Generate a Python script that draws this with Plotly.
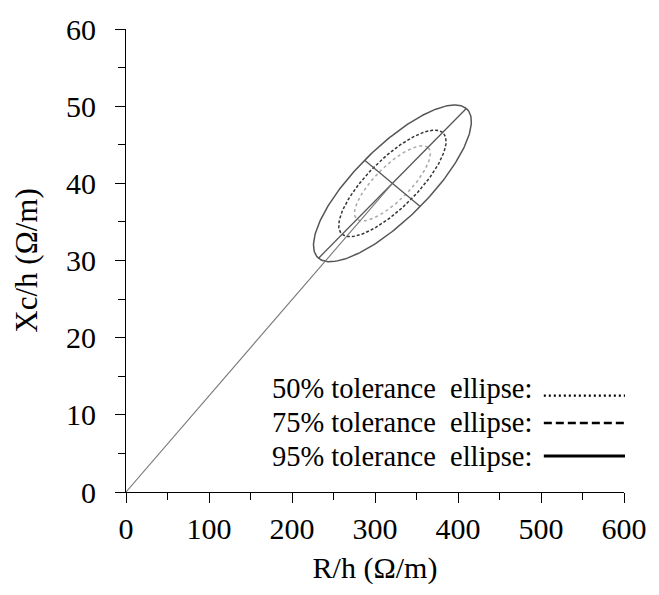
import numpy as np
import plotly.graph_objects as go

# ---- data ----
mean_R = 321.0          # R/h of mean vector
mean_Xc = 40.0          # Xc/h of mean vector
major_semi = [89.0, 9.7]     # 95% ellipse semi-major axis vector (R, Xc)
minor_semi = [-33.5, 3.0]    # 95% ellipse semi-minor axis vector (R, Xc)
levels = ["50%", "75%", "95%"]
level_scale = [0.48, 0.68, 1.0]
level_color = ["#a8a8a8", "#333333", "#555555"]
level_dash = ["dot", "3px,2px", "solid"]
x_ticks = [0, 100, 200, 300, 400, 500, 600]
y_ticks = [0, 10, 20, 30, 40, 50, 60]

FONT = "Liberation Serif"
fig = go.Figure()

t = np.linspace(0, 2 * np.pi, 241)
for lv, s, c, d in zip(levels, level_scale, level_color, level_dash):
    xs = mean_R + s * (major_semi[0] * np.cos(t) + minor_semi[0] * np.sin(t))
    ys = mean_Xc + s * (major_semi[1] * np.cos(t) + minor_semi[1] * np.sin(t))
    fig.add_trace(go.Scatter(x=xs, y=ys, mode="lines",
                             line=dict(color=c, width=1.5, dash=d),
                             hoverinfo="skip", showlegend=False))

# principal axes of the 95% ellipse
fig.add_trace(go.Scatter(
    x=[mean_R - major_semi[0], mean_R + major_semi[0]],
    y=[mean_Xc - major_semi[1], mean_Xc + major_semi[1]],
    mode="lines", line=dict(color="#555555", width=1.3), showlegend=False))
fig.add_trace(go.Scatter(
    x=[mean_R - minor_semi[0], mean_R + minor_semi[0]],
    y=[mean_Xc - minor_semi[1], mean_Xc + minor_semi[1]],
    mode="lines", line=dict(color="#555555", width=1.3), showlegend=False))
# mean vector from origin
fig.add_trace(go.Scatter(x=[0, mean_R], y=[0, mean_Xc], mode="lines",
                         line=dict(color="#777777", width=1.1), showlegend=False))

# legend drawn as text + sample lines
row_y_text = [0.224, 0.150, 0.076]
row_y_line = [0.208, 0.149, 0.078]
sample_dash = ["2px,3px", "8px,4px", "solid"]
sample_width = [2.2, 2.5, 3]
for lv, d, w, yt, yl in zip(levels, sample_dash, sample_width, row_y_text, row_y_line):
    fig.add_annotation(x=0.289, y=yt, xref="paper", yref="paper",
                       xanchor="left", yanchor="middle", showarrow=False,
                       text=f"{lv} tolerance&nbsp; ellipse:",
                       font=dict(family=FONT, size=28.5, color="black"))
    fig.add_shape(type="line", xref="paper", yref="paper",
                  x0=0.839, x1=1.002, y0=yl, y1=yl,
                  line=dict(color="black", width=w, dash=d))

axis_common = dict(showgrid=False, zeroline=False, showline=True,
                   linecolor="black", linewidth=1.2, ticks="outside",
                   ticklen=10, tickwidth=1.2, tickcolor="black",
                   tickfont=dict(family=FONT, size=30, color="black"),
                   mirror=False)
fig.update_xaxes(range=[0, 600], tickvals=x_ticks,
                 minor=dict(dtick=50, ticklen=7, tickwidth=1.2, tickcolor="black", ticks="outside"),
                 title=dict(text="R/h (Ω/m)", font=dict(family=FONT, size=30, color="black"), standoff=12),
                 **axis_common)
fig.update_yaxes(range=[0, 60], tickvals=y_ticks, ticklabelstandoff=13,
                 minor=dict(dtick=5, ticklen=7, tickwidth=1.2, tickcolor="black", ticks="outside"),
                 title=dict(text="Xc/h (Ω/m)", font=dict(family=FONT, size=31, color="black"), standoff=19),
                 **axis_common)

fig.update_layout(width=659, height=595, margin=dict(l=126, r=28, t=20, b=103),
                  paper_bgcolor="white", plot_bgcolor="white", showlegend=False)
fig.write_html("out.html")
